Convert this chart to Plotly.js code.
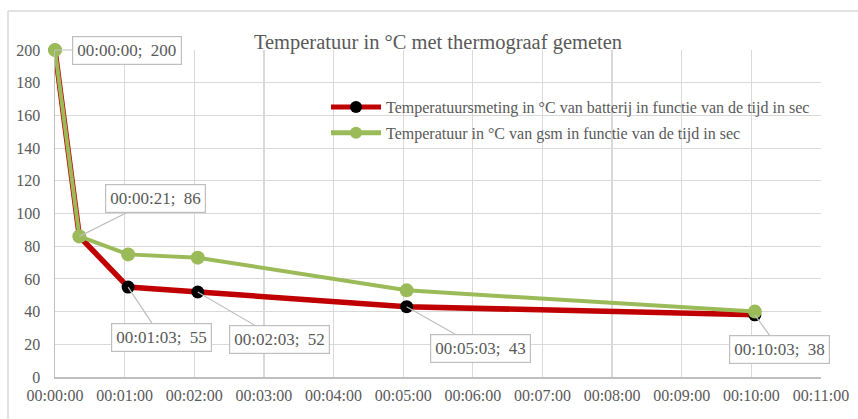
<!DOCTYPE html>
<html>
<head>
<meta charset="utf-8">
<script src="https://cdn.plot.ly/plotly-3.0.1.min.js"></script>
<style>
  html, body { margin: 0; padding: 0; background: #fff; }
  #chart { width: 858px; height: 419px; }
</style>
</head>
<body>
<div id="chart"></div>
<script>
// ---- data ----
const timeSec = [0, 21, 63, 123, 303, 603];
const tempBatterij = [200, 86, 55, 52, 43, 38];
const tempGsm = [200, 86, 75, 73, 53, 40];
const xTickVals = [0, 60, 120, 180, 240, 300, 360, 420, 480, 540, 600, 660];
const xTickLabels = ['00:00:00', '00:01:00', '00:02:00', '00:03:00', '00:04:00', '00:05:00',
                     '00:06:00', '00:07:00', '00:08:00', '00:09:00', '00:10:00', '00:11:00'];
const seriesNames = [
  'Temperatuursmeting in °C van batterij in functie van de tijd in sec',
  'Temperatuur in °C van gsm in functie van de tijd in sec'
];
const chartTitle = 'Temperatuur in °C met thermograaf gemeten';

// ---- helpers ----
function pad2(n) { return String(n).padStart(2, '0'); }
function hms(s) {
  return pad2(Math.floor(s / 3600)) + ':' + pad2(Math.floor((s % 3600) / 60)) + ':' + pad2(s % 60);
}

const FONT = '"Liberation Serif", "Times New Roman", serif';
const TXT = '#595959';

const traces = [
  {
    x: timeSec, y: tempBatterij, name: seriesNames[0], type: 'scatter', mode: 'lines+markers',
    line: { color: '#C00000', width: 5.5 },
    marker: { color: '#000000', size: 13 },
    cliponaxis: false, legendgroup: 'a'
  },
  {
    x: timeSec, y: tempGsm, name: seriesNames[1], type: 'scatter', mode: 'lines+markers',
    line: { color: '#9BBB59', width: 4 },
    marker: { color: '#9BBB59', size: 14 },
    cliponaxis: false, legendgroup: 'b'
  }
];

// label offsets (pixels) for each data label of the batterij series
const labelOffsets = [[72, 0], [76, -38], [33, 50], [82, 48], [74, 42], [25, 35]];

const annotations = timeSec.map((t, i) => ({
  x: t, y: tempBatterij[i], xref: 'x', yref: 'y',
  text: hms(t) + ';\u00a0 ' + tempBatterij[i],
  showarrow: true, arrowhead: 0, arrowwidth: 1.2, arrowcolor: '#bfbfbf',
  ax: labelOffsets[i][0], ay: labelOffsets[i][1],
  bgcolor: '#ffffff', bordercolor: '#bfbfbf', borderwidth: 1.2, borderpad: 4,
  font: { family: FONT, size: 17, color: TXT }
}));

const W = 858, H = 419;
const m = { l: 55, r: 37, t: 50, b: 42 };
const pw = W - m.l - m.r, ph = H - m.t - m.b;
function px(x) { return (x - m.l) / pw; }
function py(y) { return 1 - (y - m.t) / ph; }

const layout = {
  width: W, height: H,
  margin: m,
  paper_bgcolor: '#ffffff', plot_bgcolor: '#ffffff',
  font: { family: FONT, color: TXT, size: 16 },
  title: {
    text: chartTitle,
    font: { family: FONT, size: 20.5, color: TXT },
    x: 0.5, xref: 'paper', xanchor: 'center',
    y: 1 - 42 / H, yref: 'container', yanchor: 'middle'
  },
  xaxis: {
    range: [0, 660], tickvals: xTickVals, ticktext: xTickLabels,
    showgrid: true, gridcolor: '#d9d9d9', gridwidth: 1.2,
    showline: true, linecolor: '#bfbfbf', linewidth: 1.5,
    zeroline: false, ticks: '', ticklabelstandoff: 3,
    tickfont: { family: FONT, size: 16, color: TXT }
  },
  yaxis: {
    range: [0, 200], dtick: 20, tick0: 0,
    showgrid: true, gridcolor: '#d9d9d9', gridwidth: 1.2,
    showline: true, linecolor: '#bfbfbf', linewidth: 1.5,
    zeroline: false, ticks: '', ticklabelstandoff: 10,
    tickfont: { family: FONT, size: 16, color: TXT }
  },
  showlegend: true,
  legend: {
    x: px(326), y: py(90), xanchor: 'left', yanchor: 'top',
    bgcolor: 'rgba(255,255,255,0)', borderwidth: 0,
    traceorder: 'grouped', tracegroupgap: 2, itemwidth: 50, itemsizing: 'constant',
    font: { family: FONT, size: 16, color: TXT }
  },
  annotations: annotations,
  shapes: [
    { type: 'line', xref: 'paper', yref: 'paper', x0: px(8), x1: px(858), y0: py(11), y1: py(11),
      line: { color: '#d9d9d9', width: 1.5 } },
    { type: 'line', xref: 'paper', yref: 'paper', x0: px(8), x1: px(8), y0: py(11), y1: py(419),
      line: { color: '#d9d9d9', width: 1.5 } }
  ]
};

Plotly.newPlot('chart', traces, layout, { displayModeBar: false, staticPlot: true });
</script>
</body>
</html>
